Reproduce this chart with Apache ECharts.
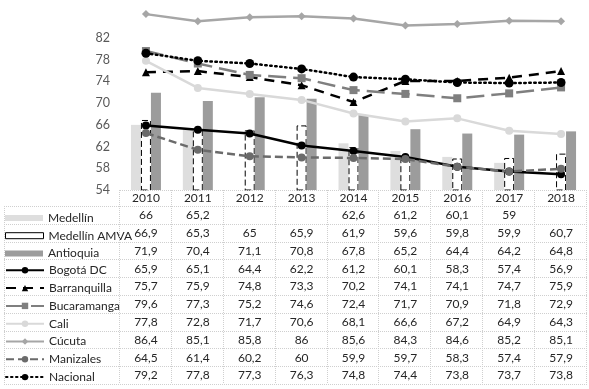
<!DOCTYPE html>
<html>
<head>
<meta charset="utf-8">
<script src="https://cdn.jsdelivr.net/npm/echarts@6/dist/echarts.min.js"></script>
<style>
  html, body { margin: 0; padding: 0; background: #fff; }
  #chart { width: 589px; height: 389px; }
</style>
</head>
<body>
<div id="chart"></div>
<script>
// años (categorías)
var years = ['2010', '2011', '2012', '2013', '2014', '2015', '2016', '2017', '2018'];

// series
var medellin     = [66, 65.2, null, null, 62.6, 61.2, 60.1, 59, null];
var medellinAMVA = [66.9, 65.3, 65, 65.9, 61.9, 59.6, 59.8, 59.9, 60.7];
var antioquia    = [71.9, 70.4, 71.1, 70.8, 67.8, 65.2, 64.4, 64.2, 64.8];
var bogota       = [65.9, 65.1, 64.4, 62.2, 61.2, 60.1, 58.3, 57.4, 56.9];
var barranquilla = [75.7, 75.9, 74.8, 73.3, 70.2, 74.1, 74.1, 74.7, 75.9];
var bucaramanga  = [79.6, 77.3, 75.2, 74.6, 72.4, 71.7, 70.9, 71.8, 72.9];
var cali         = [77.8, 72.8, 71.7, 70.6, 68.1, 66.6, 67.2, 64.9, 64.3];
var cucuta       = [86.4, 85.1, 85.8, 86, 85.6, 84.3, 84.6, 85.2, 85.1];
var manizales    = [64.5, 61.4, 60.2, 60, 59.9, 59.7, 58.3, 57.4, 57.9];
var nacional     = [79.2, 77.8, 77.3, 76.3, 74.8, 74.4, 73.8, 73.7, 73.8];

// etiquetas del eje Y
var yTicks = [54, 58, 62, 66, 70, 74, 78, 82];

var font = 'Lato, "Open Sans", sans-serif';

var seriesList = [
    { name: 'Medellín', type: 'bar', data: medellin, barWidth: 10, barGap: '0%',
      itemStyle: { color: '#dedede' } },
    { name: 'Medellín AMVA', type: 'bar', data: medellinAMVA, barWidth: 10, barGap: '0%',
      itemStyle: { color: '#fff', borderColor: '#000', borderWidth: 1, borderType: [6, 3] } },
    { name: 'Antioquia', type: 'bar', data: antioquia, barWidth: 10, barGap: '0%',
      itemStyle: { color: '#9c9c9c' } },
    { name: 'Bogotá DC', type: 'line', data: bogota, symbol: 'circle', symbolSize: 8,
      itemStyle: { color: '#000' }, lineStyle: { color: '#000', width: 2.5 } },
    { name: 'Barranquilla', type: 'line', data: barranquilla, symbol: 'triangle', symbolSize: 8,
      itemStyle: { color: '#000' }, lineStyle: { color: '#000', width: 2.5, type: [10, 7] } },
    { name: 'Bucaramanga', type: 'line', data: bucaramanga, symbol: 'rect', symbolSize: 8,
      itemStyle: { color: '#7f7f7f' }, lineStyle: { color: '#7f7f7f', width: 2.5, type: [18, 7] } },
    { name: 'Cali', type: 'line', data: cali, symbol: 'circle', symbolSize: 8,
      itemStyle: { color: '#d9d9d9' }, lineStyle: { color: '#d9d9d9', width: 2.5 } },
    { name: 'Cúcuta', type: 'line', data: cucuta, symbol: 'diamond', symbolSize: 8,
      itemStyle: { color: '#a6a6a6' }, lineStyle: { color: '#a6a6a6', width: 2.5 } },
    { name: 'Manizales', type: 'line', data: manizales, symbol: 'circle', symbolSize: 8,
      itemStyle: { color: '#6b6b6b' }, lineStyle: { color: '#6b6b6b', width: 2.5, type: [8, 4] } },
    { name: 'Nacional', type: 'line', data: nacional, symbol: 'circle', symbolSize: 9,
      itemStyle: { color: '#000' }, lineStyle: { color: '#000', width: 2.5, type: [1.5, 3.5], cap: 'round' } }
];
seriesList.forEach(function (s) {
    s.animation = false;
    if (s.type === 'line') { s.z = 3; s.clip = false; }
    else { s.clip = true; }
});

// tabla
var tableTop = 190, headH = 16, rowH = 17.8, tableLeft = 4, tableRight = 587;
var rowsTop = tableTop + headH;

// una leyenda por fila
var legends = seriesList.map(function (s, i) {
    var isBar = s.type === 'bar';
    var h = isBar ? 6 : 8;
    var lg = {
        data: [s.name],
        left: 5,
        top: rowsTop + rowH * i + rowH / 2 - h / 2,
        itemWidth: 38,
        itemHeight: h,
        itemGap: 5,
        selectedMode: false,
        padding: 0,
        textStyle: { fontFamily: font, fontSize: 12, color: '#262626', lineHeight: h }
    };
    if (isBar) {
        lg.icon = 'rect';
        lg.itemStyle = { borderWidth: s.itemStyle.borderWidth ? 1 : 0 };
    }
    return lg;
});

var chart = echarts.init(document.getElementById('chart'));
var option = {
    animation: false,
    grid: { left: 120, right: 2, top: 190 - 34 * (152 / 28), bottom: 199 },
    legend: legends,
    xAxis: {
        type: 'category',
        data: years,
        axisLine: { show: false },
        axisTick: { show: false },
        axisLabel: { show: false }
    },
    yAxis: {
        type: 'value',
        min: 54,
        max: 88,
        interval: 4,
        splitLine: { show: false },
        axisLine: { show: false },
        axisTick: { show: false },
        axisLabel: {
            margin: 10,
            fontFamily: font,
            fontSize: 12.5,
            color: '#595959',
            formatter: function (v) { return yTicks.indexOf(v) >= 0 ? String(v) : ''; }
        }
    },
    series: seriesList
};
chart.setOption(option);

// dibujar la tabla de datos
var gridLine = { stroke: '#cfcfcf', lineWidth: 1, lineDash: [1, 1] };
var graphics = [];
var colW = (tableRight - 120) / years.length;
var tableBottom = rowsTop + rowH * seriesList.length;

// líneas horizontales
graphics.push({ type: 'line', shape: { x1: 120, y1: tableTop + 0.5, x2: tableRight, y2: tableTop + 0.5 }, style: gridLine, silent: true, z: 10 });
for (var r = 0; r <= seriesList.length; r++) {
    var y = Math.round(rowsTop + rowH * r) + 0.5;
    graphics.push({ type: 'line', shape: { x1: tableLeft, y1: y, x2: tableRight, y2: y }, style: gridLine, silent: true, z: 10 });
}
// líneas verticales
graphics.push({ type: 'line', shape: { x1: tableLeft + 0.5, y1: rowsTop, x2: tableLeft + 0.5, y2: tableBottom }, style: gridLine, silent: true, z: 10 });
for (var c = 0; c <= years.length; c++) {
    var x = Math.round(120 + colW * c) - 0.5;
    graphics.push({ type: 'line', shape: { x1: x, y1: tableTop, x2: x, y2: tableBottom }, style: gridLine, silent: true, z: 10 });
}
// encabezado y valores
years.forEach(function (yr, i) {
    var cx = chart.convertToPixel({ xAxisIndex: 0 }, i);
    graphics.push({
        type: 'text', x: cx, y: tableTop + headH / 2 + 0.5, silent: true, z: 10,
        style: { text: yr, fontFamily: font, fontSize: 12, fill: '#262626', align: 'center', verticalAlign: 'middle' }
    });
    seriesList.forEach(function (s, j) {
        var v = s.data[i];
        if (v === null || v === undefined) return;
        graphics.push({
            type: 'text', x: cx, y: rowsTop + rowH * j + rowH / 2 + 0.5, silent: true, z: 10,
            style: { text: String(v).replace('.', ','), fontFamily: font, fontSize: 12, fill: '#262626', align: 'center', verticalAlign: 'middle' }
        });
    });
});
chart.setOption({ graphic: graphics });
</script>
</body>
</html>
